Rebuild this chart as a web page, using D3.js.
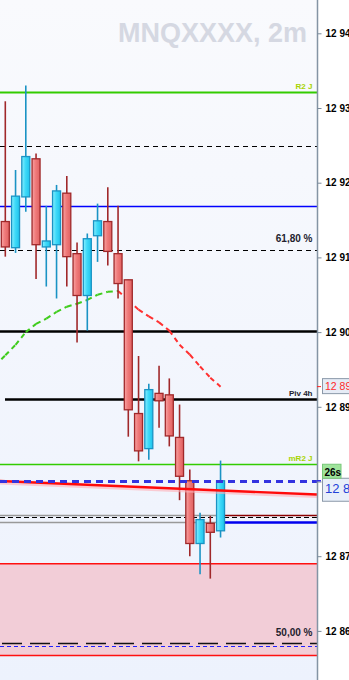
<!DOCTYPE html>
<html>
<head>
<meta charset="utf-8">
<script src="https://cdn.jsdelivr.net/npm/d3@7"></script>
<style>
  body { margin: 0; background: #fff; }
  svg { display: block; font-family: "Liberation Sans", Arial, sans-serif; }
</style>
</head>
<body>
<div id="chart"></div>
<script type="text/javascript">
  const width = 349,
    height = 680,
    plotW = 317;

  // 2 minute candles
  const opens  = [12914.8, 12911.3, 12918.1, 12923.2, 12911.4, 12911.7, 12918.6, 12910.5, 12904.9, 12912.9, 12914.8,
                  12910.5, 12907.0, 12889.1, 12884.4, 12891.8, 12891.6, 12885.9, 12880.1, 12871.7, 12874.4, 12873.4];
  const highs  = [12930.9, 12921.7, 12933.0, 12923.9, 12916.9, 12919.7, 12920.9, 12912.0, 12913.2, 12917.2, 12919.4,
                  12916.9, 12907.0, 12896.8, 12893.1, 12895.5, 12893.8, 12890.3, 12881.6, 12875.8, 12875.4, 12882.8];
  const lows   = [12910.1, 12910.6, 12916.1, 12907.1, 12906.1, 12904.5, 12906.1, 12898.6, 12900.2, 12909.4, 12908.9,
                  12904.5, 12886.0, 12882.7, 12882.9, 12887.2, 12884.7, 12877.5, 12870.0, 12867.6, 12867.0, 12872.5];
  const closes = [12911.4, 12918.2, 12923.5, 12911.7, 12912.2, 12918.9, 12910.1, 12904.9, 12912.5, 12914.9, 12910.8,
                  12906.5, 12889.6, 12884.1, 12892.3, 12890.8, 12886.1, 12880.7, 12871.7, 12874.9, 12873.2, 12880.1];

  // moving average, first value belongs to the bar before candle 0
  const maValues = [12895.5, 12896.9, 12898.3, 12900.0, 12901.1, 12901.8, 12902.7, 12903.4, 12903.8, 12904.3, 12905.0,
                    12905.4, 12905.5, 12904.3, 12903.0, 12902.1, 12901.3, 12900.2, 12898.3, 12897.0, 12895.4, 12893.9, 12892.7];

  // horizontal levels
  const levelPrices = [12932.2, 12924.9, 12916.9, 12911.0, 12900.1, 12891.0, 12882.4, 12880.0,
                       12875.5, 12875.2, 12874.6, 12858.4, 12858.0];
  const zonePrices = [12869.0, 12856.7];
  const trendIdx = [-0.52, 30.4],
    trendPrices = [12880.06, 12878.25];

  const labelTexts = ["R2 J", "61,80 %", "Piv 4h", "mR2 J", "50,00 %"];
  const labelPrices = [12932.2, 12911.0, 12891.0, 12882.4, 12858.4];

  const tickValues = [12860, 12870, 12880, 12890, 12900, 12910, 12920, 12930, 12940];
  const title = "MNQXXXX, 2m";
  const countdown = "26s";

  const x = d3.scaleLinear().domain([0, 21]).range([5.3, 220.55]);
  const y = d3.scaleLinear().domain([12860, 12940]).range([630.9, 33.3]);

  const fmtPrice = d => d3.format(",.2f")(d).replace(",", " ").replace(".", ",");

  const svg = d3.select("#chart").append("svg")
    .attr("width", width)
    .attr("height", height);

  const defs = svg.append("defs");

  const bg = defs.append("linearGradient").attr("id", "bg").attr("x1", 0).attr("x2", 0).attr("y1", 0).attr("y2", 1);
  bg.append("stop").attr("offset", "0%").attr("stop-color", "#f9fafd");
  bg.append("stop").attr("offset", "100%").attr("stop-color", "#edf2fd");

  function bodyGrad(id, c0, c1, c2) {
    const g = defs.append("linearGradient").attr("id", id);
    g.append("stop").attr("offset", "0%").attr("stop-color", c0);
    g.append("stop").attr("offset", "45%").attr("stop-color", c1);
    g.append("stop").attr("offset", "100%").attr("stop-color", c2);
  }
  bodyGrad("redBody", "#f7a4a4", "#f07a7a", "#df6262");
  bodyGrad("blueBody", "#8aefff", "#3fdaf9", "#1ec3ec");

  defs.append("clipPath").attr("id", "plotClip")
    .append("rect").attr("width", plotW).attr("height", height);

  // backgrounds
  svg.append("rect").attr("width", plotW).attr("height", height).attr("fill", "url(#bg)");

  const plot = svg.append("g").attr("clip-path", "url(#plotClip)");

  // watermark
  plot.append("text")
    .attr("x", 307).attr("y", 42)
    .attr("text-anchor", "end")
    .attr("font-size", "27px")
    .attr("font-weight", "bold")
    .attr("fill", "#d5d8e2")
    .text(title);

  // pink zone
  plot.append("rect")
    .attr("x", 0).attr("width", plotW)
    .attr("y", y(zonePrices[0]))
    .attr("height", y(zonePrices[1]) - y(zonePrices[0]))
    .attr("fill", "#f2cdd7");
  zonePrices.forEach(function(p) {
    plot.append("line")
      .attr("x1", 0).attr("x2", plotW)
      .attr("y1", y(p)).attr("y2", y(p))
      .style("stroke", "#ff1010").style("stroke-width", "1.5px");
  });

  // line styles for each level (same order as levelPrices)
  const levelStyle = [
    { c: "#33cc00", w: 2 },
    { c: "#000", w: 1.2, dash: "5,4" },
    { c: "#0000ff", w: 1.3 },
    { c: "#000", w: 1.2, dash: "5,4" },
    { c: "#000", w: 2.6 },
    { c: "#000", w: 2.6, x0: 5 },
    { c: "#33cc00", w: 1.3 },
    null,
    { c: "#999", w: 1.3, x1: 220, c2: "#8b0000" },
    { c: "#000", w: 1.2, dash: "5,3" },
    { c: "#999", w: 1.3, x1: 219, c2: "#0000ee", w2: 2.6 },
    { c: "#111", w: 1.3, dash: "20,8", x0: 2 },
    { c: "#1f1fff", w: 1.2, dash: "4,3" }
  ];

  const levels = plot.append("g");
  levelPrices.forEach(function(p, i) {
    const s = levelStyle[i];
    if (!s) return;
    const yy = Math.round(y(p)) + 0.5;
    levels.append("line")
      .attr("x1", s.x0 || 0).attr("x2", s.x1 || plotW)
      .attr("y1", yy).attr("y2", yy)
      .style("stroke", s.c)
      .style("stroke-width", s.w + "px")
      .style("stroke-dasharray", s.dash || null);
    if (s.x1) {
      levels.append("line")
        .attr("x1", s.x1).attr("x2", plotW)
        .attr("y1", yy).attr("y2", yy)
        .style("stroke", s.c2)
        .style("stroke-width", (s.w2 || s.w) + "px");
    }
  });

  // level labels
  const labelStyle = [
    { c: "#a8d400", s: 8, dy: -3 },
    { c: "#22222e", s: 10, dy: -8 },
    { c: "#22222e", s: 8, dy: -3 },
    { c: "#a8d400", s: 8, dy: -3 },
    { c: "#22222e", s: 10, dy: -7 }
  ];
  labelTexts.forEach(function(t, i) {
    plot.append("text")
      .attr("x", 312.5)
      .attr("y", y(labelPrices[i]) + labelStyle[i].dy)
      .attr("text-anchor", "end")
      .attr("font-size", labelStyle[i].s + "px")
      .attr("font-weight", "bold")
      .attr("fill", labelStyle[i].c)
      .text(t);
  });

  // moving average, green when rising, red when falling
  const ma = plot.append("g");
  for (let k = 1; k < maValues.length; k++) {
    const up = maValues[k] >= maValues[k - 1];
    ma.append("line")
      .attr("x1", x(k - 2)).attr("x2", x(k - 1))
      .attr("y1", y(maValues[k - 1])).attr("y2", y(maValues[k]))
      .style("stroke", up ? "#3fcc1c" : "#ff3030")
      .style("stroke-width", "2px")
      .style("stroke-dasharray", "5,4");
  }

  // candles
  const candles = plot.append("g")
    .selectAll("g")
    .data(d3.range(opens.length))
    .enter()
    .append("g");

  candles.append("line")
    .attr("x1", d => x(d)).attr("x2", d => x(d))
    .attr("y1", d => y(highs[d])).attr("y2", d => y(lows[d]))
    .style("stroke", d => closes[d] >= opens[d] ? "#1a93c4" : "#a0282a")
    .style("stroke-width", "1.6px");

  candles.append("rect")
    .attr("x", d => x(d) - 4)
    .attr("width", 8)
    .attr("y", d => y(Math.max(opens[d], closes[d])))
    .attr("height", d => Math.max(1, Math.abs(y(opens[d]) - y(closes[d]))))
    .attr("fill", d => closes[d] >= opens[d] ? "url(#blueBody)" : "url(#redBody)")
    .style("stroke", d => closes[d] >= opens[d] ? "#1a93c4" : "#a0282a")
    .style("stroke-width", "1.3px");

  // trend line with soft shadow
  plot.append("line")
    .attr("x1", x(trendIdx[0])).attr("x2", x(trendIdx[1]))
    .attr("y1", y(trendPrices[0]) + 2).attr("y2", y(trendPrices[1]) + 2)
    .style("stroke", "#ffb0b8").style("stroke-width", "3px").style("opacity", 0.6);
  plot.append("line")
    .attr("x1", x(trendIdx[0])).attr("x2", x(trendIdx[1]))
    .attr("y1", y(trendPrices[0])).attr("y2", y(trendPrices[1]))
    .style("stroke", "#ff0a0a").style("stroke-width", "2.4px");

  // last price dashed line
  const lastY = Math.round(y(levelPrices[7])) + 0.5;
  plot.append("line")
    .attr("x1", 0).attr("x2", plotW)
    .attr("y1", lastY).attr("y2", lastY)
    .style("stroke", "#3333e0").style("stroke-width", "3px")
    .style("stroke-dasharray", "7,5");

  // right axis
  svg.append("line")
    .attr("x1", plotW + 0.5).attr("x2", plotW + 0.5)
    .attr("y1", 0).attr("y2", height)
    .style("stroke", "#8494a4").style("stroke-width", "1.5px");

  const axis = svg.append("g")
    .attr("transform", "translate(" + (plotW + 0.5) + ",0)")
    .call(d3.axisRight(y).tickValues(tickValues).tickSize(4).tickPadding(4)
      .tickFormat(d => d3.format(",")(d).replace(",", " ")));
  axis.select(".domain").remove();
  axis.selectAll(".tick line").style("stroke", "#7a8a9a");
  axis.selectAll(".tick text")
    .attr("font-family", "Liberation Sans, Arial, sans-serif")
    .attr("font-size", "10px")
    .attr("font-weight", "bold")
    .attr("fill", "#000");
  // the 12 880 label sits under the price boxes, so it is not shown
  axis.selectAll(".tick").filter(d => d === 12880).select("text").remove();

  // moving average price label
  const maLast = maValues[maValues.length - 1];
  svg.append("line")
    .attr("x1", plotW).attr("x2", plotW + 4)
    .attr("y1", y(maLast)).attr("y2", y(maLast))
    .style("stroke", "#ff2020");
  svg.append("rect")
    .attr("x", 322.5).attr("y", y(maLast) - 8)
    .attr("width", 30).attr("height", 15)
    .attr("fill", "#e6ecf6").style("stroke", "#8a98a8");
  svg.append("text")
    .attr("x", 325).attr("y", y(maLast) + 3.5)
    .attr("font-size", "10.5px")
    .attr("fill", "#ff2a2a")
    .text(fmtPrice(maLast));

  // last price label + countdown
  const lastClose = closes[closes.length - 1];
  svg.append("line")
    .attr("x1", plotW).attr("x2", plotW + 4)
    .attr("y1", y(lastClose)).attr("y2", y(lastClose))
    .style("stroke", "#3333e0").style("stroke-width", "1.5px");
  svg.append("rect")
    .attr("x", 322.5).attr("y", y(lastClose) - 2.5)
    .attr("width", 30).attr("height", 23)
    .attr("fill", "#e9eff9").style("stroke", "#8a98a8");
  svg.append("text")
    .attr("x", 325).attr("y", y(lastClose) + 12.5)
    .attr("font-size", "13px")
    .attr("fill", "#2340d8")
    .text(fmtPrice(lastClose));
  svg.append("rect")
    .attr("x", 322.5).attr("y", y(lastClose) - 16.5)
    .attr("width", 18.5).attr("height", 14)
    .attr("fill", "#9fe49b").style("stroke", "#78c878");
  svg.append("text")
    .attr("x", 324.5).attr("y", y(lastClose) - 5)
    .attr("font-size", "10px")
    .attr("font-weight", "bold")
    .attr("fill", "#000")
    .text(countdown);
</script>
</body>
</html>
